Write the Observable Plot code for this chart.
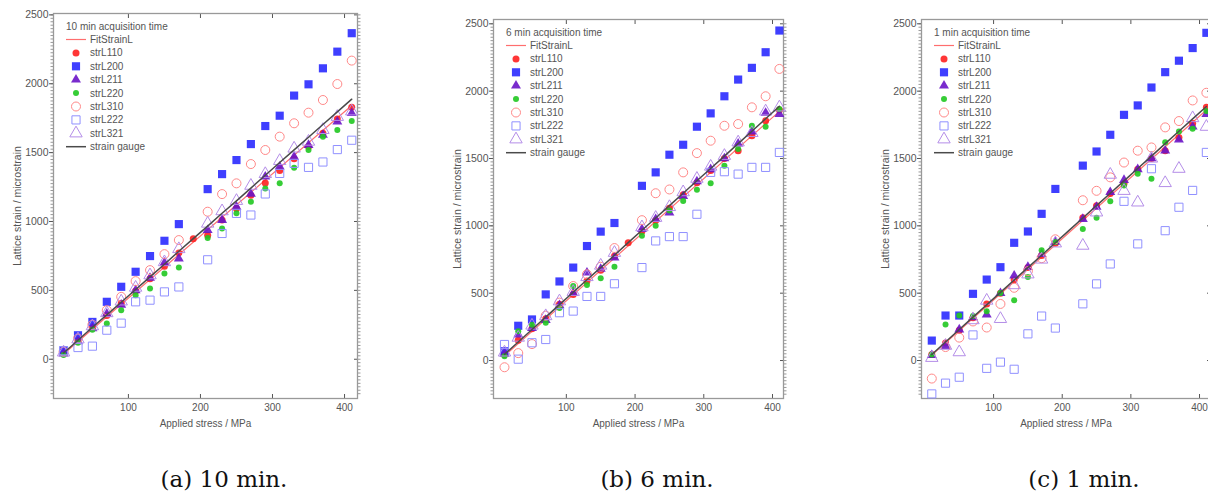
<!DOCTYPE html>
<html><head><meta charset="utf-8">
<script src="https://cdn.jsdelivr.net/npm/d3@7"></script>
<script src="https://cdn.jsdelivr.net/npm/@observablehq/plot@0.6"></script>
<style>
html,body{margin:0;padding:0;background:#fff;overflow:hidden;width:1208px;height:493px;}
#wrap{position:relative;width:1208px;height:493px;overflow:hidden;}
.panel{position:absolute;top:0;}
#caps{position:absolute;left:0;top:0;}
</style></head><body><div id="wrap"></div>
<script>
// ---------------- data ----------------
const stress = [10,30,50,70,90,110,130,150,170,190,210,230,250,270,290,310,330,350,370,390,410];
const seriesNames = ["strL110","strL200","strL211","strL220","strL310","strL222","strL321"];
const panelTitles = ["10 min acquisition time","6 min acquisition time","1 min acquisition time"];
const captions = ["(a) 10 min.","(b) 6 min.","(c) 1 min."];
const xTicks = [100,200,300,400];
const yTicks = [0,500,1000,1500,2000,2500];
const xLabel = "Applied stress / MPa";
const yLabel = "Lattice strain / microstrain";
const fitName = "FitStrainL";
const gaugeName = "strain gauge";

// FitStrainL (fitted line end points)
const fitStress = [10,410];
const fitA = [38,1842];
const fitB = [35,1850];
const fitC = [40,1860];

// strain gauge
const gaugeA = [45,138,232,322,414,506,598,690,784,876,966,1060,1150,1242,1336,1428,1520,1612,1704,1796,1888];
const gaugeB = [46,138,230,322,415,507,600,690,782,875,967,1058,1150,1242,1335,1426,1518,1610,1702,1795,1888];
const gaugeC = [45,137,230,322,414,506,598,690,782,874,966,1058,1150,1242,1334,1426,1518,1610,1702,1794,1886];

// (a) 10 min
const a110 = [40,135,228,318,405,495,585,675,772,875,900,1010,1095,1190,1280,1370,1455,1545,1640,1745,1830];
const a200 = [65,174,271,417,526,635,749,860,981,null,1235,1344,1446,1562,1693,1768,1914,1996,2112,2233,2367];
const a211 = [40,130,225,330,395,500,590,700,730,null,937,1010,1107,1200,1325,1398,1470,1555,1628,1725,1786];
const a220 = [30,120,215,259,356,465,514,623,666,null,880,950,1060,1143,1240,1277,1390,1519,1616,1664,1730];
const a310 = [55,150,250,356,453,567,647,763,865,null,1071,1199,1277,1417,1519,1616,1713,1790,1882,1998,2168];
const a222 = [62,85,95,211,262,417,429,489,525,null,722,913,1059,1047,1200,1349,1422,1393,1432,1522,1590];
const a321 = [50,145,240,335,420,520,610,705,800,null,985,1075,1150,1260,1345,1440,1530,1580,1665,1760,1800];

// (b) 6 min
const b110 = [45,150,235,310,417,491,590,670,775,875,960,1040,1130,1230,1320,1410,1500,1557,1669,1780,1860];
const b200 = [69,258,305,491,587,690,850,957,1021,null,1297,1397,1528,1602,1736,1835,1962,2086,2173,2289,2450];
const b211 = [50,193,240,300,410,500,652,680,764,null,975,1049,1098,1220,1330,1420,1500,1610,1700,1838,1830];
const b220 = [32,218,265,280,390,553,560,610,697,null,927,1000,1113,1185,1267,1317,1446,1570,1743,1736,1867];
const b310 = [-50,55,122,333,430,553,640,696,835,null,1042,1242,1270,1397,1540,1632,1743,1756,1880,1962,2165];
const b222 = [119,10,132,156,355,367,476,476,570,null,690,888,920,920,1086,1397,1402,1384,1434,1434,1545];
const b321 = [60,170,260,330,440,510,620,705,800,null,990,1060,1140,1250,1350,1440,1520,1620,1690,1850,1880];

// (c) 1 min
const c110 = [45,130,225,317,420,500,600,690,780,870,null,1060,1150,1240,1315,1420,1500,1558,1655,1760,1880];
const c200 = [148,334,334,495,601,693,874,958,1089,1274,null,1447,1552,1676,1824,1894,2027,2141,2226,2320,2433];
const c211 = [40,106,230,320,341,500,630,695,790,880,null,1050,1140,1250,1340,1420,1500,1558,1640,1736,1830];
const c220 = [44,267,334,330,366,502,447,620,818,880,null,977,1060,1182,1300,1386,1350,1620,1700,1720,1852];
const c310 = [-134,100,170,290,245,420,540,664,760,900,null,1190,1260,1360,1470,1558,1582,1731,1778,1931,1988];
const c222 = [-248,-168,-124,190,-58,-12,-65,198,330,241,null,421,569,717,1182,866,1424,964,1138,1263,1545];
const c321 = [20,110,62,300,445,309,560,640,750,870,null,853,1100,1380,1260,1174,1500,1318,1424,1800,1736];

// ---------------- styles / layout ----------------
const seriesStyle = {
  strL110: {symbol:"circle",   r:3.5, fill:"#ff2020"},
  strL200: {symbol:"square",   r:4.6, fill:"#2a2aff"},
  strL211: {symbol:"triangle", r:3.7, fill:"#6a14c8"},
  strL220: {symbol:"circle",   r:3.0, fill:"#20c820"},
  strL310: {symbol:"circle",   r:4.5, stroke:"#ff8888"},
  strL222: {symbol:"square",   r:4.6, stroke:"#9090ff"},
  strL321: {symbol:"triangle", r:4.6, stroke:"#b48de8"}
};
const fitColor = "#ff6e6e", gaugeColor = "#4a4a4a";

const panelData = [
  {series:[a110,a200,a211,a220,a310,a222,a321], gauge:gaugeA, fit:fitA},
  {series:[b110,b200,b211,b220,b310,b222,b321], gauge:gaugeB, fit:fitB},
  {series:[c110,c200,c211,c220,c310,c222,c321], gauge:gaugeC, fit:fitC}
];
const layout = [
  {left:0,   width:370, mt:13, ml:53, mr:13, xd:[-4,418], yd:[-285,2510], capX:224},
  {left:440, width:357, mt:19, ml:53, mr:14, xd:[-6,416], yd:[-282,2532], capX:657},
  {left:868, width:356, mt:19, ml:53, mr:14, xd:[-5,416], yd:[-282,2532], capX:1084}
];
const H = 430, MB = 32;
const yMinor = d3.range(-250, 2501, 25);
const font = "'Liberation Sans', Arial, sans-serif";
const fmt = d3.format("d");

const wrap = document.getElementById("wrap");

panelData.forEach((pd, p) => {
  const L = layout[p];
  const dotMarks = seriesNames.map((name, s) => {
    const rows = [];
    pd.series[s].forEach((v, i) => { if (v != null) rows.push({stress: stress[i], strain: v}); });
    const st = seriesStyle[name];
    const opts = {x:"stress", y:"strain", symbol: st.symbol, r: st.r};
    if (st.fill) { opts.fill = st.fill; opts.stroke = "none"; opts.fillOpacity = 0.9; }
    else { opts.fill = "none"; opts.stroke = st.stroke; opts.strokeWidth = 1; }
    return Plot.dot(rows, opts);
  });
  const fitRows = fitStress.map((x, i) => ({stress: x, strain: pd.fit[i]}));
  const gaugeRows = stress.map((x, i) => ({stress: x, strain: pd.gauge[i]}));

  const svg = Plot.plot({
    width: L.width, height: H,
    marginTop: L.mt, marginLeft: L.ml, marginRight: L.mr, marginBottom: MB,
    x: {domain: L.xd, label: null},
    y: {domain: L.yd, label: null},
    style: {fontFamily: font, fontSize: "10px", color: "#555", background: "transparent", overflow: "visible"},
    marks: [
      Plot.axisY(yMinor, {anchor:"left", tickSize:2.5, fill:"none", label:null, stroke:"#999"}),
      Plot.axisY(yMinor, {anchor:"right", tickSize:2.5, fill:"none", label:null, stroke:"#999"}),
      Plot.axisY(yTicks, {anchor:"left", tickSize:4, tickPadding:1, tickFormat: fmt, label:yLabel, labelAnchor:"center", labelArrow:"none", labelOffset:40, fontSize:10.5}),
      Plot.axisY(yTicks, {anchor:"right", tickSize:-4, fill:"none", label:null}),
      Plot.axisX(xTicks, {anchor:"bottom", tickSize:-4, tickPadding:9, tickFormat: fmt, label:xLabel, labelAnchor:"center", labelArrow:"none", labelOffset:28, fontSize:10}),
      Plot.axisX(xTicks, {anchor:"top", tickSize:-4, fill:"none", label:null}),
      Plot.frame({stroke:"#999", strokeWidth:1.3}),
      Plot.line(fitRows, {x:"stress", y:"strain", stroke: fitColor, strokeWidth:1.2}),
      ...dotMarks,
      Plot.line(gaugeRows, {x:"stress", y:"strain", stroke: gaugeColor, strokeWidth:1.5})
    ]
  });
  svg.classList.add("panel");
  svg.style.left = L.left + "px";
  wrap.appendChild(svg);

  // legend inside the frame (top-left)
  const g = d3.select(svg).append("g")
    .attr("transform", `translate(${L.ml},${L.mt})`)
    .attr("text-anchor", "start")
    .style("font-family", font).style("font-size", "10px").attr("fill", "#555");
  g.append("text").attr("x", 13).attr("y", 13.5).attr("dy", "0.35em").attr("text-anchor", "start").text(panelTitles[p]);
  const entries = [fitName, ...seriesNames, gaugeName];
  entries.forEach((name, i) => {
    const y = 26.5 + i * 13.4;
    if (name === fitName || name === gaugeName) {
      g.append("line").attr("x1", 13).attr("x2", 33).attr("y1", y).attr("y2", y)
        .attr("stroke", name === fitName ? fitColor : gaugeColor)
        .attr("stroke-width", name === fitName ? 1.2 : 1.5);
    } else {
      const st = seriesStyle[name];
      const type = {circle: d3.symbolCircle, square: d3.symbolSquare, triangle: d3.symbolTriangle}[st.symbol];
      g.append("path").attr("d", d3.symbol(type, st.r * st.r * Math.PI)())
        .attr("transform", `translate(23,${y})`)
        .attr("fill", st.fill || "none").attr("fill-opacity", st.fill ? 0.9 : null)
        .attr("stroke", st.stroke || "none").attr("stroke-width", 1);
    }
    g.append("text").attr("x", 37).attr("y", y).attr("dy", "0.35em").attr("text-anchor", "start").text(name);
  });
});

// captions
const caps = d3.select(wrap).append("svg").attr("id", "caps").attr("width", 1208).attr("height", 493);
captions.forEach((c, p) => {
  caps.append("text").attr("x", layout[p].capX).attr("y", 487).attr("text-anchor", "middle")
    .style("font-family", "'DejaVu Serif', serif").style("font-size", "23px").attr("fill", "#111").text(c);
});
</script>
</body></html>
